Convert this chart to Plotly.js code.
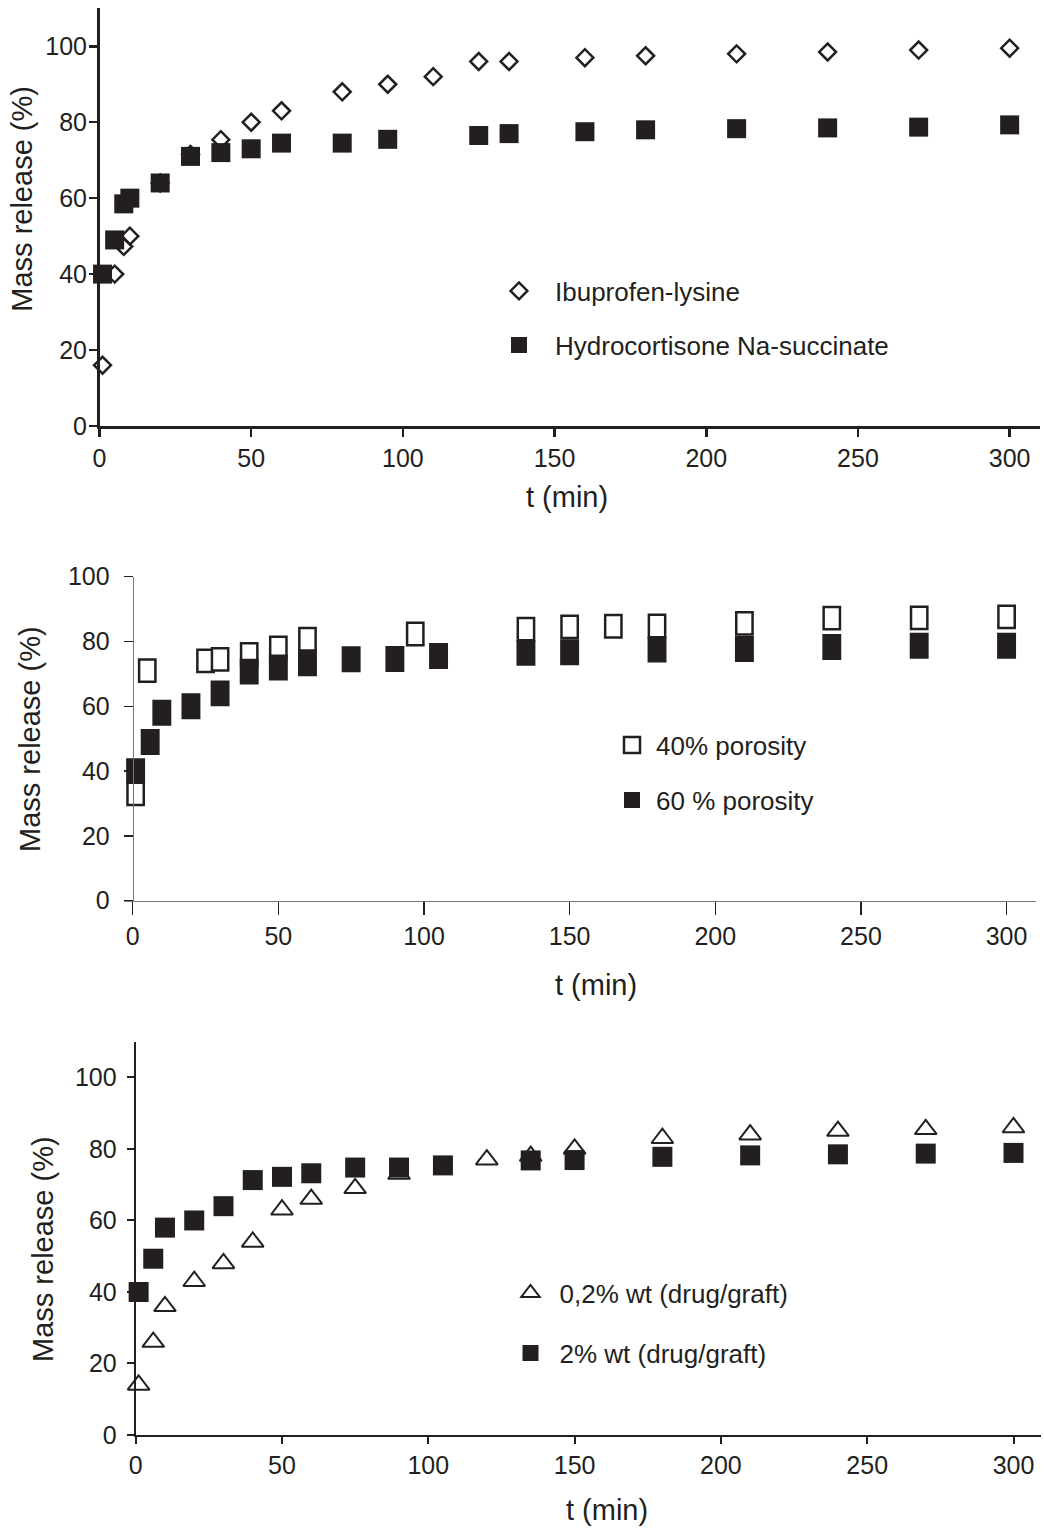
<!DOCTYPE html>
<html>
<head>
<meta charset="utf-8">
<script src="https://cdn.plot.ly/plotly-3.0.1.min.js"></script>
<style>
  html, body { margin: 0; padding: 0; background: #ffffff; }
  #chart { width: 1044px; height: 1528px; }
</style>
</head>
<body>
<div id="chart"></div>
<script>
// ---------- Data ----------
// Panel 1
const ibuprofenT = [1, 5, 8, 10, 20, 30, 40, 50, 60, 80, 95, 110, 125, 135, 160, 180, 210, 240, 270, 300];
const ibuprofenV = [16, 40, 47.3, 50, 64, 71.5, 75.4, 80, 83, 88, 90, 92, 96, 96, 97, 97.5, 98, 98.5, 99, 99.5];
const hydrocortT = [1, 5, 8, 10, 20, 30, 40, 50, 60, 80, 95, 125, 135, 160, 180, 210, 240, 270, 300];
const hydrocortV = [40, 49, 58.5, 60, 64, 71, 72, 73, 74.5, 74.5, 75.5, 76.5, 77, 77.5, 78, 78.3, 78.5, 78.7, 79.3];
// Panel 2
const poro40T = [1, 5, 25, 30, 40, 50, 60, 97, 135, 150, 165, 180, 210, 240, 270, 300];
const poro40V = [33, 71, 74, 74.5, 76, 78, 80.7, 82.3, 83.8, 84.5, 84.7, 84.8, 85.6, 87.2, 87.3, 87.6];
const poro60T = [1, 6, 10, 20, 30, 40, 50, 60, 75, 90, 105, 135, 150, 180, 210, 240, 270, 300];
const poro60V = [40, 49, 58, 60, 64, 70.7, 72, 73.3, 74.5, 74.6, 75.5, 76.5, 76.7, 77.5, 77.7, 78.3, 78.7, 78.7];
// Panel 3
const wt02T = [1, 6, 10, 20, 30, 40, 50, 60, 75, 90, 120, 135, 150, 180, 210, 240, 270, 300];
const wt02V = [14, 26, 36, 43, 48, 54, 63, 66, 69, 73, 77, 78, 80, 83, 84, 85, 85.5, 86];
const wt2T = [1, 6, 10, 20, 30, 40, 50, 60, 75, 90, 105, 135, 150, 180, 210, 240, 270, 300];
const wt2V = [40, 49.3, 58, 60, 64, 71.3, 72.2, 73.2, 74.8, 74.8, 75.4, 76.8, 76.9, 77.8, 78.2, 78.5, 78.7, 78.9];

const xTicks = [0, 50, 100, 150, 200, 250, 300];
const yTicks = [0, 20, 40, 60, 80, 100];
const seriesNames = ['Ibuprofen-lysine', 'Hydrocortisone Na-succinate', '40% porosity', '60 % porosity',
                     '0,2% wt (drug/graft)', '2% wt (drug/graft)'];
const xTitle = 't (min)';
const yTitle = 'Mass release (%)';

// ---------- Styling ----------
const INK = '#231f20';
const FONT = '"Liberation Sans", Arial, Helvetica, sans-serif';
const W = 1044, H = 1528;
const px = v => v / W;
const py = v => 1 - v / H;

// rectangle heights (in data units) for panel 2 markers
const hollowH = 6.9, filledH = 8;

const traces = [
  { x: ibuprofenT, y: ibuprofenV, type: 'scatter', mode: 'markers', name: seriesNames[0],
    xaxis: 'x', yaxis: 'y', legend: 'legend', cliponaxis: false,
    marker: { symbol: 'diamond-open', size: 13, color: INK, line: { width: 2.5, color: INK } } },
  { x: hydrocortT, y: hydrocortV, type: 'scatter', mode: 'markers', name: seriesNames[1],
    xaxis: 'x', yaxis: 'y', legend: 'legend2', cliponaxis: false,
    marker: { symbol: 'square', size: 19, color: INK, line: { width: 0 } } },

  { x: poro40T, y: poro40V.map(() => hollowH), base: poro40V.map(v => v - hollowH / 2),
    type: 'bar', width: 5.6, name: seriesNames[2], xaxis: 'x2', yaxis: 'y2', showlegend: false,
    cliponaxis: false, marker: { color: '#ffffff', line: { width: 2.5, color: INK } } },
  { x: poro60T, y: poro60V.map(() => filledH), base: poro60V.map(v => v - filledH / 2),
    type: 'bar', width: 6.5, name: seriesNames[3], xaxis: 'x2', yaxis: 'y2', showlegend: false,
    cliponaxis: false, marker: { color: INK, line: { width: 0 } } },
  // legend entries for panel 2 (no data points of their own)
  { x: [null], y: [null], type: 'scatter', mode: 'markers', name: seriesNames[2],
    xaxis: 'x2', yaxis: 'y2', legend: 'legend3',
    marker: { symbol: 'square-open', size: 16, color: INK, line: { width: 2.5, color: INK } } },
  { x: [null], y: [null], type: 'scatter', mode: 'markers', name: seriesNames[3],
    xaxis: 'x2', yaxis: 'y2', legend: 'legend4',
    marker: { symbol: 'square', size: 16, color: INK, line: { width: 0 } } },

  { x: wt02T, y: wt02V, type: 'scatter', mode: 'markers', name: seriesNames[4],
    xaxis: 'x3', yaxis: 'y3', legend: 'legend5', cliponaxis: false,
    marker: { symbol: 'triangle-up-open', size: 19, color: INK, line: { width: 2, color: INK } } },
  { x: wt2T, y: wt2V, type: 'scatter', mode: 'markers', name: seriesNames[5],
    xaxis: 'x3', yaxis: 'y3', legend: 'legend6', cliponaxis: false,
    marker: { symbol: 'square', size: 20, color: INK, line: { width: 0 } } }
];

function xAxis(domain, range, anchor, lw, lc, tl, tw) {
  return { domain, range, anchor, showline: true, linecolor: lc, linewidth: lw,
    ticks: 'outside', ticklen: tl, tickwidth: tw, tickcolor: INK,
    tickmode: 'array', tickvals: xTicks, showgrid: false, zeroline: false,
    tickfont: { family: FONT, size: 25, color: INK }, fixedrange: true };
}
function yAxis(domain, range, anchor, lw, lc, tl, tw, standoff) {
  return { domain, range, anchor, showline: true, linecolor: lc, linewidth: lw,
    ticks: 'outside', ticklen: tl, tickwidth: tw, tickcolor: INK,
    tickmode: 'array', tickvals: yTicks, showgrid: false, zeroline: false,
    ticklabelstandoff: standoff,
    tickfont: { family: FONT, size: 25, color: INK }, fixedrange: true };
}
function legendAt(xpx, ypx, itemwidth) {
  return { x: px(xpx), y: py(ypx), xanchor: 'left', yanchor: 'middle',
    bgcolor: 'rgba(0,0,0,0)', borderwidth: 0, itemsizing: 'trace', itemwidth,
    font: { family: FONT, size: 26, color: INK } };
}
function title(text, xpx, ypx, angle) {
  return { text, x: px(xpx), y: py(ypx), xref: 'paper', yref: 'paper',
    xanchor: 'center', yanchor: 'middle', showarrow: false, textangle: angle || 0,
    font: { family: FONT, size: 29, color: INK } };
}

const y2 = yAxis([py(900.7), py(576.7)], [0, 100], 'free', 1.5, '#7a7a7a', 9, 1.5, 9);
y2.position = px(132.7);

const layout = {
  width: W, height: H,
  margin: { l: 0, r: 0, t: 0, b: 0 },
  paper_bgcolor: '#ffffff', plot_bgcolor: 'rgba(0,0,0,0)',
  barmode: 'overlay',
  showlegend: true,
  xaxis:  xAxis([px(99.5), px(1040)], [0, 310], 'y', 2.5, INK, 8, 2.5),
  yaxis:  yAxis([py(426), py(8.3)], [0, 110], 'x', 2.5, INK, 8, 2.5, -3),
  xaxis2: xAxis([px(123.96), px(1035.7)], [-3, 310], 'y2', 1.5, '#7a7a7a', 13, 1.5),
  yaxis2: y2,
  xaxis3: xAxis([px(135.7), px(1041)], [0, 309.4], 'y3', 2, INK, 7, 2),
  yaxis3: yAxis([py(1435), py(1041.7)], [0, 110], 'x3', 2, INK, 7, 2, 5),
  legend:  legendAt(483, 291, 62),
  legend2: legendAt(483, 345, 62),
  legend3: legendAt(608, 745, 38),
  legend4: legendAt(608, 800, 38),
  legend5: legendAt(501.5, 1293, 48),
  legend6: legendAt(501.5, 1353, 48),
  annotations: [
    title(xTitle, 567, 497), title(yTitle, 21.7, 199, -90),
    title(xTitle, 596, 985), title(yTitle, 30, 739, -90),
    title(xTitle, 607, 1510), title(yTitle, 42.5, 1249.5, -90)
  ]
};

Plotly.newPlot('chart', traces, layout, { displayModeBar: false, staticPlot: true });
</script>
</body>
</html>
